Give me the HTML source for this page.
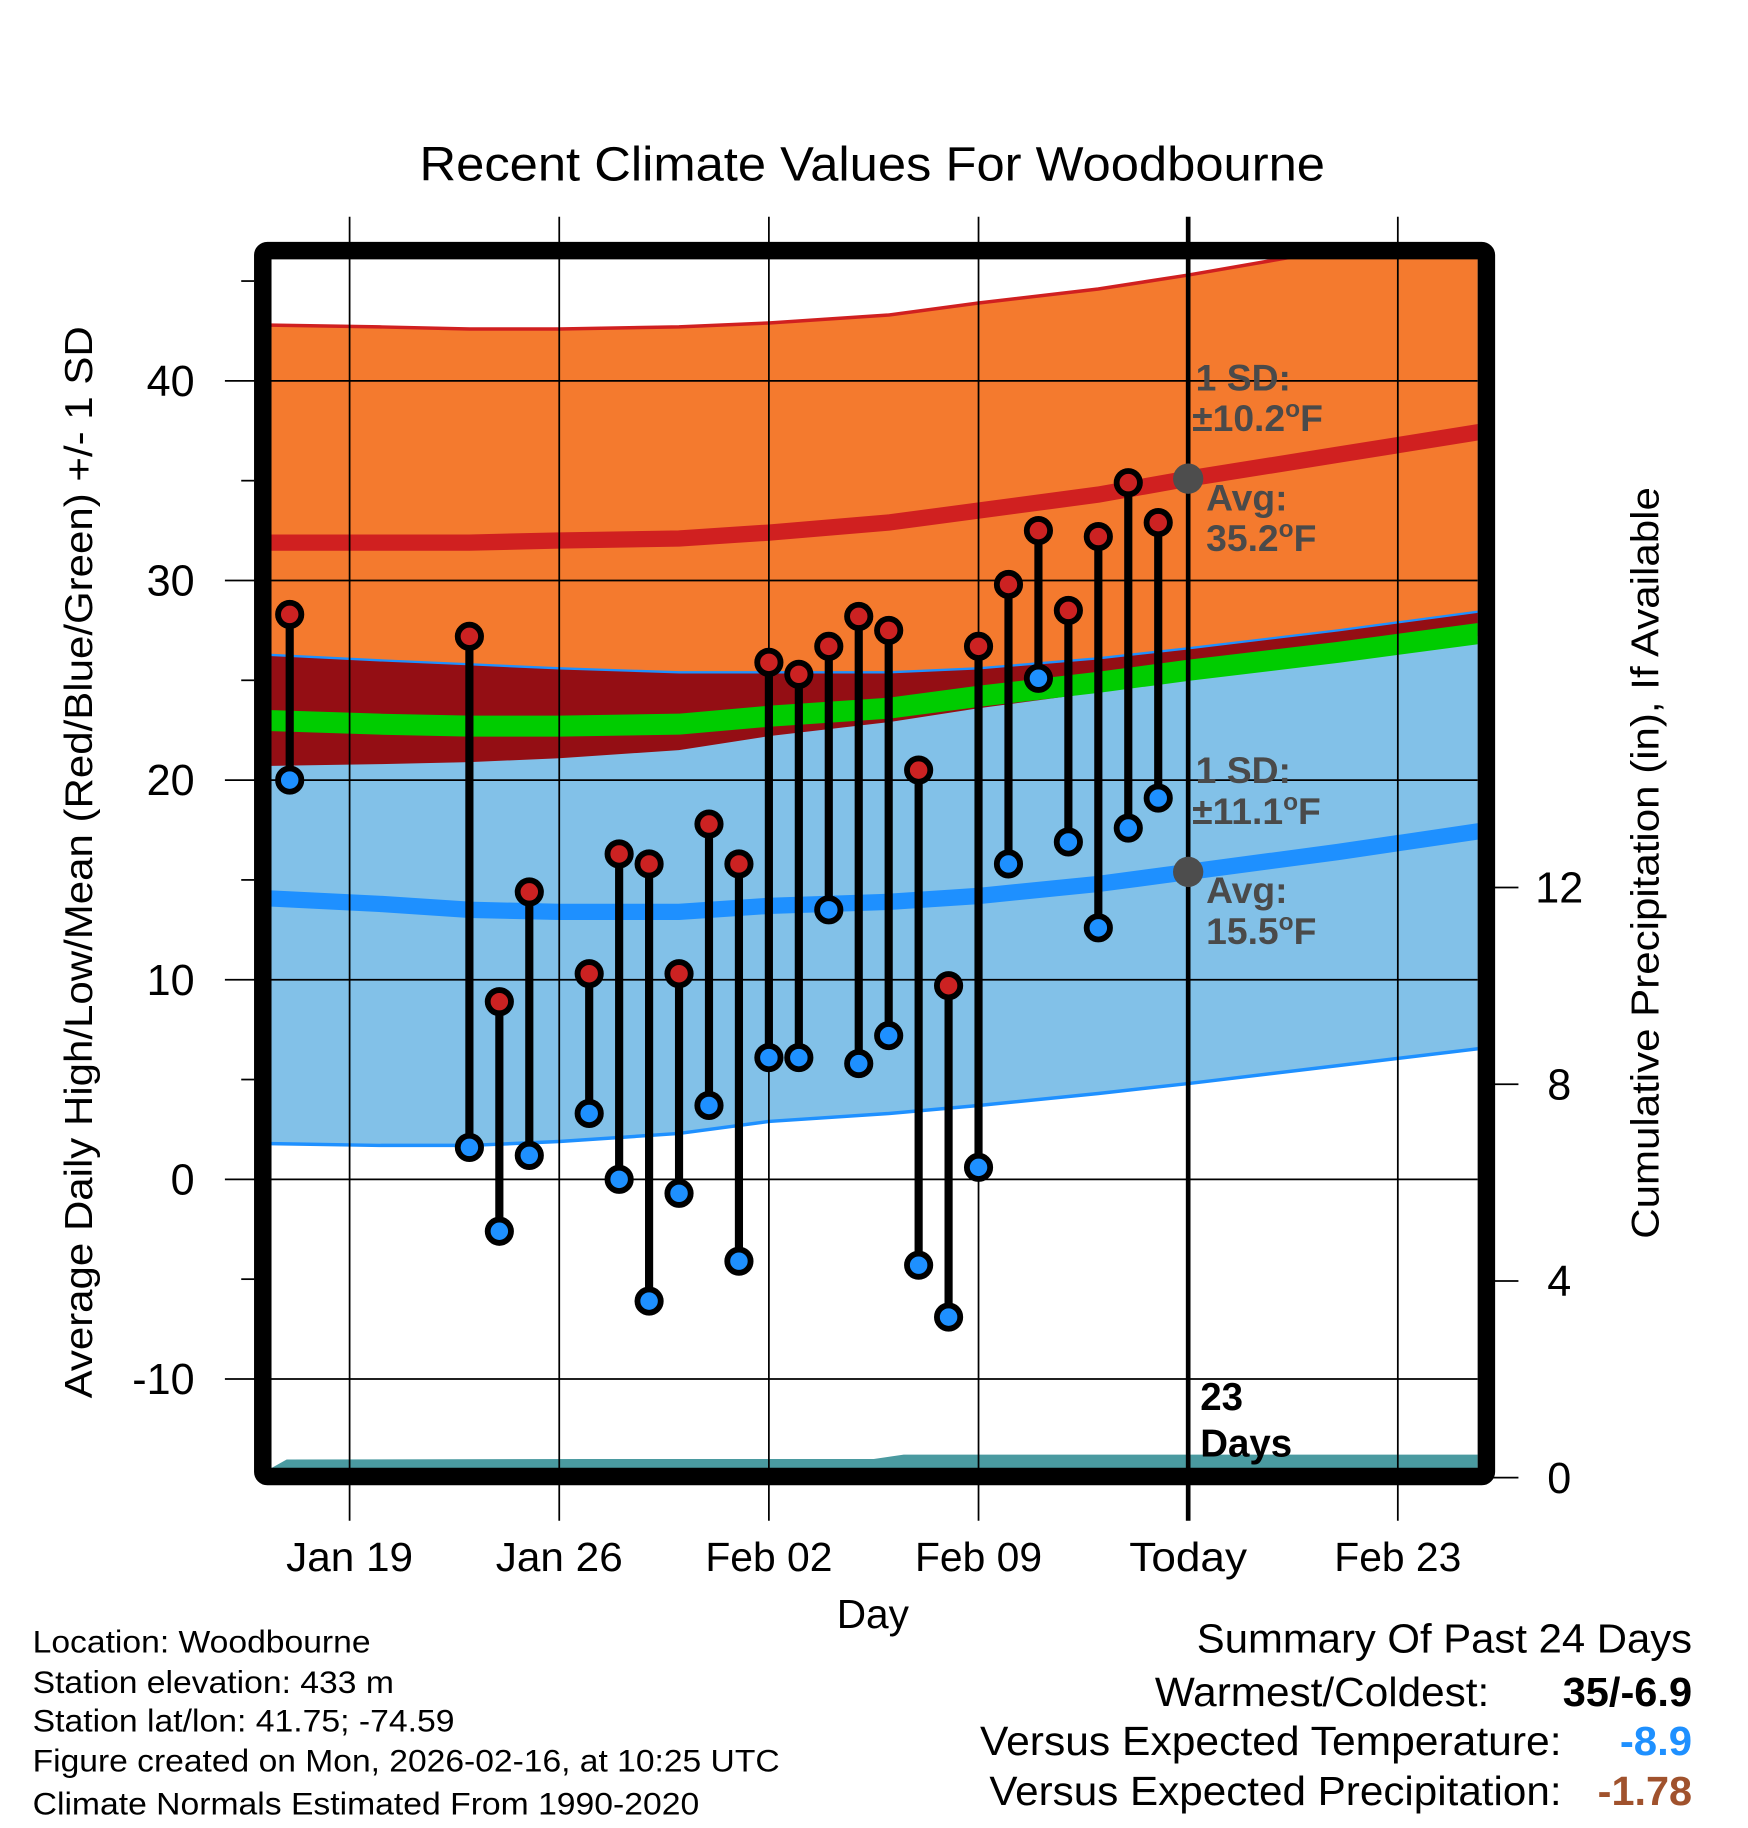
<!DOCTYPE html>
<html><head><meta charset="utf-8">
<style>
html,body{margin:0;padding:0;background:#fff;}
svg{display:block;font-family:"Liberation Sans",Arial,sans-serif;}
</style></head>
<body>
<svg id="chart" width="1748" height="1828" viewBox="0 0 1500 1568.6" xmlns="http://www.w3.org/2000/svg">
<text x="360" y="155" font-size="41" textLength="777" lengthAdjust="spacingAndGlyphs">Recent Climate Values For Woodbourne</text>
<g id="plot"></g>
<text transform="translate(79,1200) rotate(-90)" font-size="33" textLength="920" lengthAdjust="spacingAndGlyphs">Average Daily High/Low/Mean (Red/Blue/Green) +/- 1 SD</text>
<text transform="translate(1423,1063) rotate(-90)" font-size="33" textLength="645" lengthAdjust="spacingAndGlyphs">Cumulative Precipitation (in), If Available</text>
<text x="718" y="1397" font-size="35" textLength="62" lengthAdjust="spacingAndGlyphs">Day</text>
<g font-size="27">
<text x="28" y="1418" textLength="290" lengthAdjust="spacingAndGlyphs">Location: Woodbourne</text>
<text x="28" y="1453" textLength="310" lengthAdjust="spacingAndGlyphs">Station elevation: 433 m</text>
<text x="28" y="1486" textLength="362" lengthAdjust="spacingAndGlyphs">Station lat/lon: 41.75; -74.59</text>
<text x="28" y="1520" textLength="641" lengthAdjust="spacingAndGlyphs">Figure created on Mon, 2026-02-16, at 10:25 UTC</text>
<text x="28" y="1557" textLength="572" lengthAdjust="spacingAndGlyphs">Climate Normals Estimated From 1990-2020</text>
</g>
<g font-size="35">
<text x="1027" y="1418" textLength="425" lengthAdjust="spacingAndGlyphs">Summary Of Past 24 Days</text>
<text x="991" y="1464" textLength="287" lengthAdjust="spacingAndGlyphs">Warmest/Coldest:</text>
<text x="1341" y="1464" font-weight="bold" textLength="111" lengthAdjust="spacingAndGlyphs">35/-6.9</text>
<text x="841" y="1506" textLength="499" lengthAdjust="spacingAndGlyphs">Versus Expected Temperature:</text>
<text x="1390" y="1506" font-weight="bold" fill="#1e90ff" textLength="62" lengthAdjust="spacingAndGlyphs">-8.9</text>
<text x="849" y="1549" textLength="491" lengthAdjust="spacingAndGlyphs">Versus Expected Precipitation:</text>
<text x="1371" y="1549" font-weight="bold" fill="#a0522d" textLength="81" lengthAdjust="spacingAndGlyphs">-1.78</text>
</g>
</svg>
<script>
// data arrays
const normDays = [-1, 3, 6, 9, 13, 16, 20, 23, 27, 30, 35, 40];
const highPlus = [42.8, 42.7, 42.6, 42.6, 42.7, 42.9, 43.3, 43.9, 44.6, 45.3, 46.6, 48.0];
const highAvg = [31.9, 31.9, 31.9, 32.0, 32.1, 32.4, 32.9, 33.5, 34.3, 35.1, 36.3, 37.5];
const highMinus = [20.7, 20.8, 20.9, 21.1, 21.5, 22.2, 22.9, 23.6, 24.4, 25.0, 26.1, 27.3];
const meanAvg = [23.0, 22.8, 22.7, 22.7, 22.8, 23.2, 23.6, 24.2, 24.9, 25.5, 26.4, 27.4];
const lowPlus = [26.3, 26.0, 25.8, 25.6, 25.4, 25.4, 25.4, 25.6, 26.1, 26.6, 27.5, 28.5];
const lowAvg = [14.1, 13.8, 13.5, 13.4, 13.4, 13.7, 13.9, 14.2, 14.8, 15.4, 16.4, 17.5];
const lowMinus = [1.8, 1.7, 1.7, 1.9, 2.3, 2.9, 3.3, 3.7, 4.3, 4.8, 5.7, 6.6];
const obsDays = [0, 6, 7, 8, 10, 11, 12, 13, 14, 15, 16, 17, 18, 19, 20, 21, 22, 23, 24, 25, 26, 27, 28, 29];
const highs = [28.3, 27.2, 8.9, 14.4, 10.3, 16.3, 15.8, 10.3, 17.8, 15.8, 25.9, 25.3, 26.7, 28.2, 27.5, 20.5, 9.7, 26.7, 29.8, 32.5, 28.5, 32.2, 34.9, 32.9];
const lows = [20.0, 1.6, -2.6, 1.2, 3.3, 0.0, -6.1, -0.7, 3.7, -4.1, 6.1, 6.1, 13.5, 5.8, 7.2, -4.3, -6.9, 0.6, 15.8, 25.1, 16.9, 12.6, 17.6, 19.1];
const precipDays = [-0.6, -0.1, 10, 19.5, 20.5, 40];
const precipVals = [0.2, 0.37, 0.38, 0.38, 0.47, 0.47];
const yTicks = [-10, 0, 10, 20, 30, 40];
const y2Ticks = [0, 4, 8, 12];
const xTickDays = [2, 9, 16, 23, 30, 37];
const xTickLabels = ["Jan 19", "Jan 26", "Feb 02", "Feb 09", "Today", "Feb 23"];
const todayDay = 30;

const L=233,R=1268,T=222,B=1267;
const x = d => 248.6 + 25.7*d;
const y = v => 1012 - 17.13*v;
const y2 = p => 1268 - 42.2*p;
const NS="http://www.w3.org/2000/svg";
const g=document.getElementById('plot');
function el(tag,attrs,parent){const e=document.createElementNS(NS,tag);for(const k in attrs)e.setAttribute(k,attrs[k]);(parent||g).appendChild(e);return e;}
const clip=el('clipPath',{id:'cp'});el('rect',{x:L,y:T,width:R-L,height:B-T},clip);
const inner=el('g',{'clip-path':'url(#cp)'});
function pts(arr){return normDays.map((d,i)=>x(d).toFixed(1)+','+y(arr[i]).toFixed(1));}
function band(top,bot,fill,name){const p=pts(top).concat(pts(bot).reverse()).join(' ');
 const e=el('polygon',{points:p,fill:fill},inner);
 
 }
function line(arr,color,w,name){const e=el('polyline',{points:pts(arr).join(' '),fill:'none',stroke:color,'stroke-width':w},inner);
 
 }
band(highPlus,highMinus,'#f47a2e','high-sd-band');
band(lowPlus,lowMinus,'#82c1e8','low-sd-band');
band(lowPlus,highMinus,'#940e14','overlap-band');
line(highPlus,'#d02020',3,'high-plus-sd-line');
line(lowPlus,'#1e90ff',2,'low-plus-sd-line');
line(lowMinus,'#1e90ff',3,'low-minus-sd-line');
line(meanAvg,'#00cc00',18,'mean-avg-line');
line(highAvg,'#d02020',14,'high-avg-line');
line(lowAvg,'#1e90ff',14,'low-avg-line');
// precip area
{const p=precipDays.map((d,i)=>x(d).toFixed(1)+','+y2(precipVals[i]).toFixed(1));
 p.push(x(40)+','+B, x(-0.6)+','+B);
 const e=el('polygon',{points:p.join(' '),fill:'#4a9aa0'},inner);
 
 }
// grid
xTickDays.forEach((d,i)=>{
 const e=el('line',{x1:x(d),x2:x(d),y1:186,y2:1305,stroke:'#000','stroke-width':d===todayDay?4:1.5});
 
 
 const t=el('text',{x:x(d),y:1348,'font-size':35,'text-anchor':'middle',textLength:d===todayDay?101:109,lengthAdjust:'spacingAndGlyphs'});t.textContent=xTickLabels[i];
 
 
});
yTicks.forEach(v=>{
 const e=el('line',{x1:193,x2:R,y1:y(v),y2:y(v),stroke:'#000','stroke-width':1.5});
 
 
 const t=el('text',{x:167,y:y(v)+13,'font-size':37,'text-anchor':'end'});t.textContent=v;
 
 
});
for(let v=-10;v<=45;v+=5){if(v%10!==0){const e=el('line',{x1:207,x2:218,y1:y(v),y2:y(v),stroke:'#000','stroke-width':1.5});
 
 }}
y2Ticks.forEach(p=>{
 const e=el('line',{x1:1280,x2:1303,y1:y2(p),y2:y2(p),stroke:'#000','stroke-width':1.5});
 
 
 const t=el('text',{x:1338,y:y2(p)+13,'font-size':37,'text-anchor':'middle'});t.textContent=p;
 
 
});
// today dots
[[highAvg,'high'],[lowAvg,'low']].forEach(([arr,n])=>{
 const v=arr[9];const c=el('circle',{cx:x(todayDay),cy:y(v),r:13,fill:'#4d4d4d'});
 
 
});
// annotations
function txt(s,xx,yy,sz,col,name){const t=el('text',{x:xx,y:yy,'font-size':sz,'font-weight':'bold',fill:col});t.innerHTML=s;
 
 }
const G='#4a4a4a';
txt('1 SD:',1026,335,32,G,'high-sd-label');
txt('±10.2<tspan font-size="21" dy="-12">o</tspan><tspan dy="12">F</tspan>',1023,370,32,G,'high-sd-value');
txt('Avg:',1035,438,32,G,'high-avg-label');
txt('35.2<tspan font-size="21" dy="-12">o</tspan><tspan dy="12">F</tspan>',1035,473,32,G,'high-avg-value');
txt('1 SD:',1026,672,32,G,'low-sd-label');
txt('±11.1<tspan font-size="21" dy="-12">o</tspan><tspan dy="12">F</tspan>',1023,707,32,G,'low-sd-value');
txt('Avg:',1035,775,32,G,'low-avg-label');
txt('15.5<tspan font-size="21" dy="-12">o</tspan><tspan dy="12">F</tspan>',1035,810,32,G,'low-avg-value');
txt('23',1030,1210,33,'#000','days-count');
txt('Days',1030,1250,33,'#000','days-label');
// observations
obsDays.forEach((d,i)=>{
 const s=el('line',{x1:x(d),x2:x(d),y1:y(highs[i]),y2:y(lows[i]),stroke:'#000','stroke-width':7});
 
 
 const h=el('circle',{cx:x(d),cy:y(highs[i]),r:10,fill:'#cc2222',stroke:'#000','stroke-width':5});
 
 
 const l=el('circle',{cx:x(d),cy:y(lows[i]),r:10,fill:'#1e90ff',stroke:'#000','stroke-width':5});
 
 
});
const fr=el('rect',{x:225.5,y:215,width:1050,height:1052,fill:'none',stroke:'#000','stroke-width':15,rx:4});


</script>
</body></html>
